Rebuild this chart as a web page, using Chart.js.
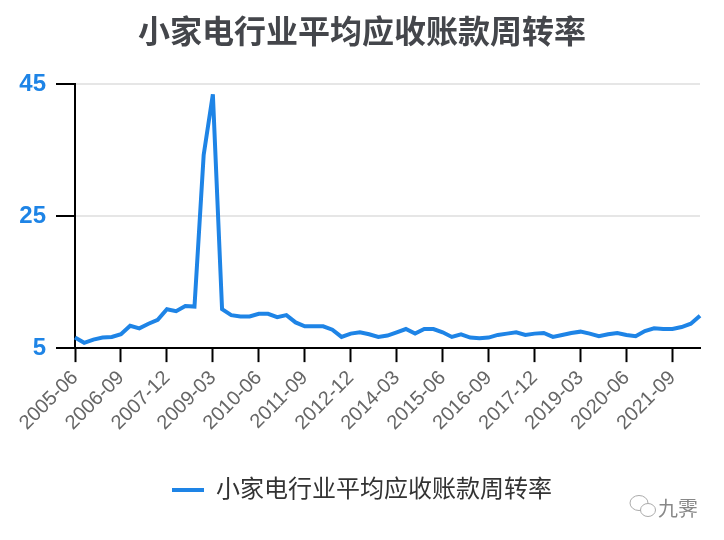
<!DOCTYPE html>
<html>
<head>
<meta charset="utf-8">
<script src="https://cdn.jsdelivr.net/npm/chart.js@4.4.0/dist/chart.umd.min.js"></script>
<style>
  html, body { margin: 0; padding: 0; background: #fff; }
  #wrap { width: 724px; height: 540px; }
</style>
</head>
<body>
<div id="wrap"><canvas id="turnover" width="724" height="540"></canvas></div>
<script>
        var quarters = [
            '2005-06','2005-09','2005-12','2006-03','2006-06','2006-09','2006-12','2007-03','2007-06','2007-09',
            '2007-12','2008-03','2008-06','2008-09','2008-12','2009-03','2009-06','2009-09','2009-12','2010-03',
            '2010-06','2010-09','2010-12','2011-03','2011-06','2011-09','2011-12','2012-03','2012-06','2012-09',
            '2012-12','2013-03','2013-06','2013-09','2013-12','2014-03','2014-06','2014-09','2014-12','2015-03',
            '2015-06','2015-09','2015-12','2016-03','2016-06','2016-09','2016-12','2017-03','2017-06','2017-09',
            '2017-12','2018-03','2018-06','2018-09','2018-12','2019-03','2019-06','2019-09','2019-12','2020-03',
            '2020-06','2020-09','2020-12','2021-03','2021-06','2021-09','2021-12','2022-03','2022-06'
        ];

        var turnover = [
            6.6, 5.8, 6.3, 6.6, 6.7, 7.1, 8.4, 8.0, 8.7, 9.3,
            10.9, 10.6, 11.4, 11.3, 34.3, 43.5, 10.9, 10.0, 9.8, 9.8,
            10.2, 10.2, 9.7, 10.0, 8.9, 8.3, 8.3, 8.3, 7.8, 6.7,
            7.2, 7.4, 7.1, 6.7, 6.9, 7.4, 7.9, 7.2, 7.9, 7.9,
            7.4, 6.7, 7.1, 6.6, 6.5, 6.6, 7.0, 7.2, 7.4, 7.0,
            7.2, 7.3, 6.7, 7.0, 7.3, 7.5, 7.2, 6.8, 7.1, 7.3,
            7.0, 6.8, 7.6, 8.0, 7.9, 7.9, 8.2, 8.7, 9.9
        ];

        var yTicks = [5, 25, 45];

        var blue = '#1e84e6';
        Chart.defaults.font.family = "'Liberation Sans', 'Noto Sans CJK SC', sans-serif";

        // little "wechat + 九霁" watermark in the corner
        var watermark = {
            id: 'watermark',
            afterDraw: (chart) => {
                const {ctx} = chart;
                ctx.save();
                ctx.strokeStyle = '#aaa';
                ctx.lineWidth = 1;
                ctx.beginPath();
                ctx.ellipse(639, 503, 9, 7.5, 0, 0, Math.PI * 2);
                ctx.stroke();
                ctx.fillStyle = '#fff';
                ctx.beginPath();
                ctx.ellipse(648, 510, 7.5, 6.5, 0, 0, Math.PI * 2);
                ctx.fill();
                ctx.stroke();
                ctx.fillStyle = '#888';
                ctx.font = "20px 'Noto Sans CJK SC', sans-serif";
                ctx.textBaseline = 'middle';
                ctx.fillText('九霁', 658, 508);
                ctx.restore();
            }
        };

        const cvs = document.getElementById('turnover');
        new Chart(cvs, {
            type: 'line',
            data: {
                labels: quarters,
                datasets: [{
                    label: '小家电行业平均应收账款周转率',
                    data: turnover,
                    borderColor: blue,
                    backgroundColor: blue,
                    borderWidth: 4,
                    pointRadius: 0,
                    tension: 0
                }]
            },
            options: {
                responsive: false,
                animation: false,
                layout: {
                    padding: { left: 9, right: 9, bottom: 28 }
                },
                plugins: {
                    title: {
                        display: true,
                        text: '小家电行业平均应收账款周转率',
                        color: '#44464b',
                        font: { size: 32, weight: 'bold' },
                        padding: { top: 15, bottom: 31 }
                    },
                    legend: {
                        position: 'bottom',
                        labels: {
                            color: '#333',
                            font: { size: 24 },
                            usePointStyle: true,
                            pointStyle: 'line',
                            pointStyleWidth: 32,
                            boxHeight: 24,
                            padding: 12
                        }
                    },
                    tooltip: { enabled: false }
                },
                scales: {
                    x: {
                        offset: false,
                        // extra room between the dates and the legend
                        afterFit: (s) => { s.height += 27; },
                        border: { display: true, color: '#000', width: 2 },
                        grid: {
                            drawOnChartArea: false,
                            tickLength: 14,
                            tickWidth: 2,
                            tickColor: (c) => c.index % 5 === 0 ? '#000' : 'rgba(0,0,0,0)'
                        },
                        ticks: {
                            autoSkip: false,
                            minRotation: 45,
                            maxRotation: 45,
                            color: '#666',
                            font: { size: 20 },
                            padding: 4,
                            callback: function (v, i) {
                                return i % 5 === 0 ? quarters[i] : '';
                            }
                        }
                    },
                    y: {
                        min: 5,
                        max: 45,
                        afterBuildTicks: (axis) => {
                            axis.ticks = yTicks.map(v => ({value: v}));
                        },
                        afterFit: (s) => { s.width = 66; },
                        border: { display: true, color: '#000', width: 2 },
                        grid: {
                            color: '#e6e6e6',
                            lineWidth: 2,
                            tickColor: '#000',
                            tickLength: 19,
                            tickWidth: 2
                        },
                        ticks: {
                            color: blue,
                            font: { size: 24, weight: 'bold' },
                            padding: 10
                        }
                    },
                    // empty spacer on the right so the plot stops short of the edge
                    gap: {
                        position: 'right',
                        afterFit: (s) => { s.width = 15; },
                        border: { display: false },
                        grid: { display: false },
                        ticks: { display: false }
                    }
                }
            },
            plugins: [watermark]
        });
</script>
</body>
</html>
